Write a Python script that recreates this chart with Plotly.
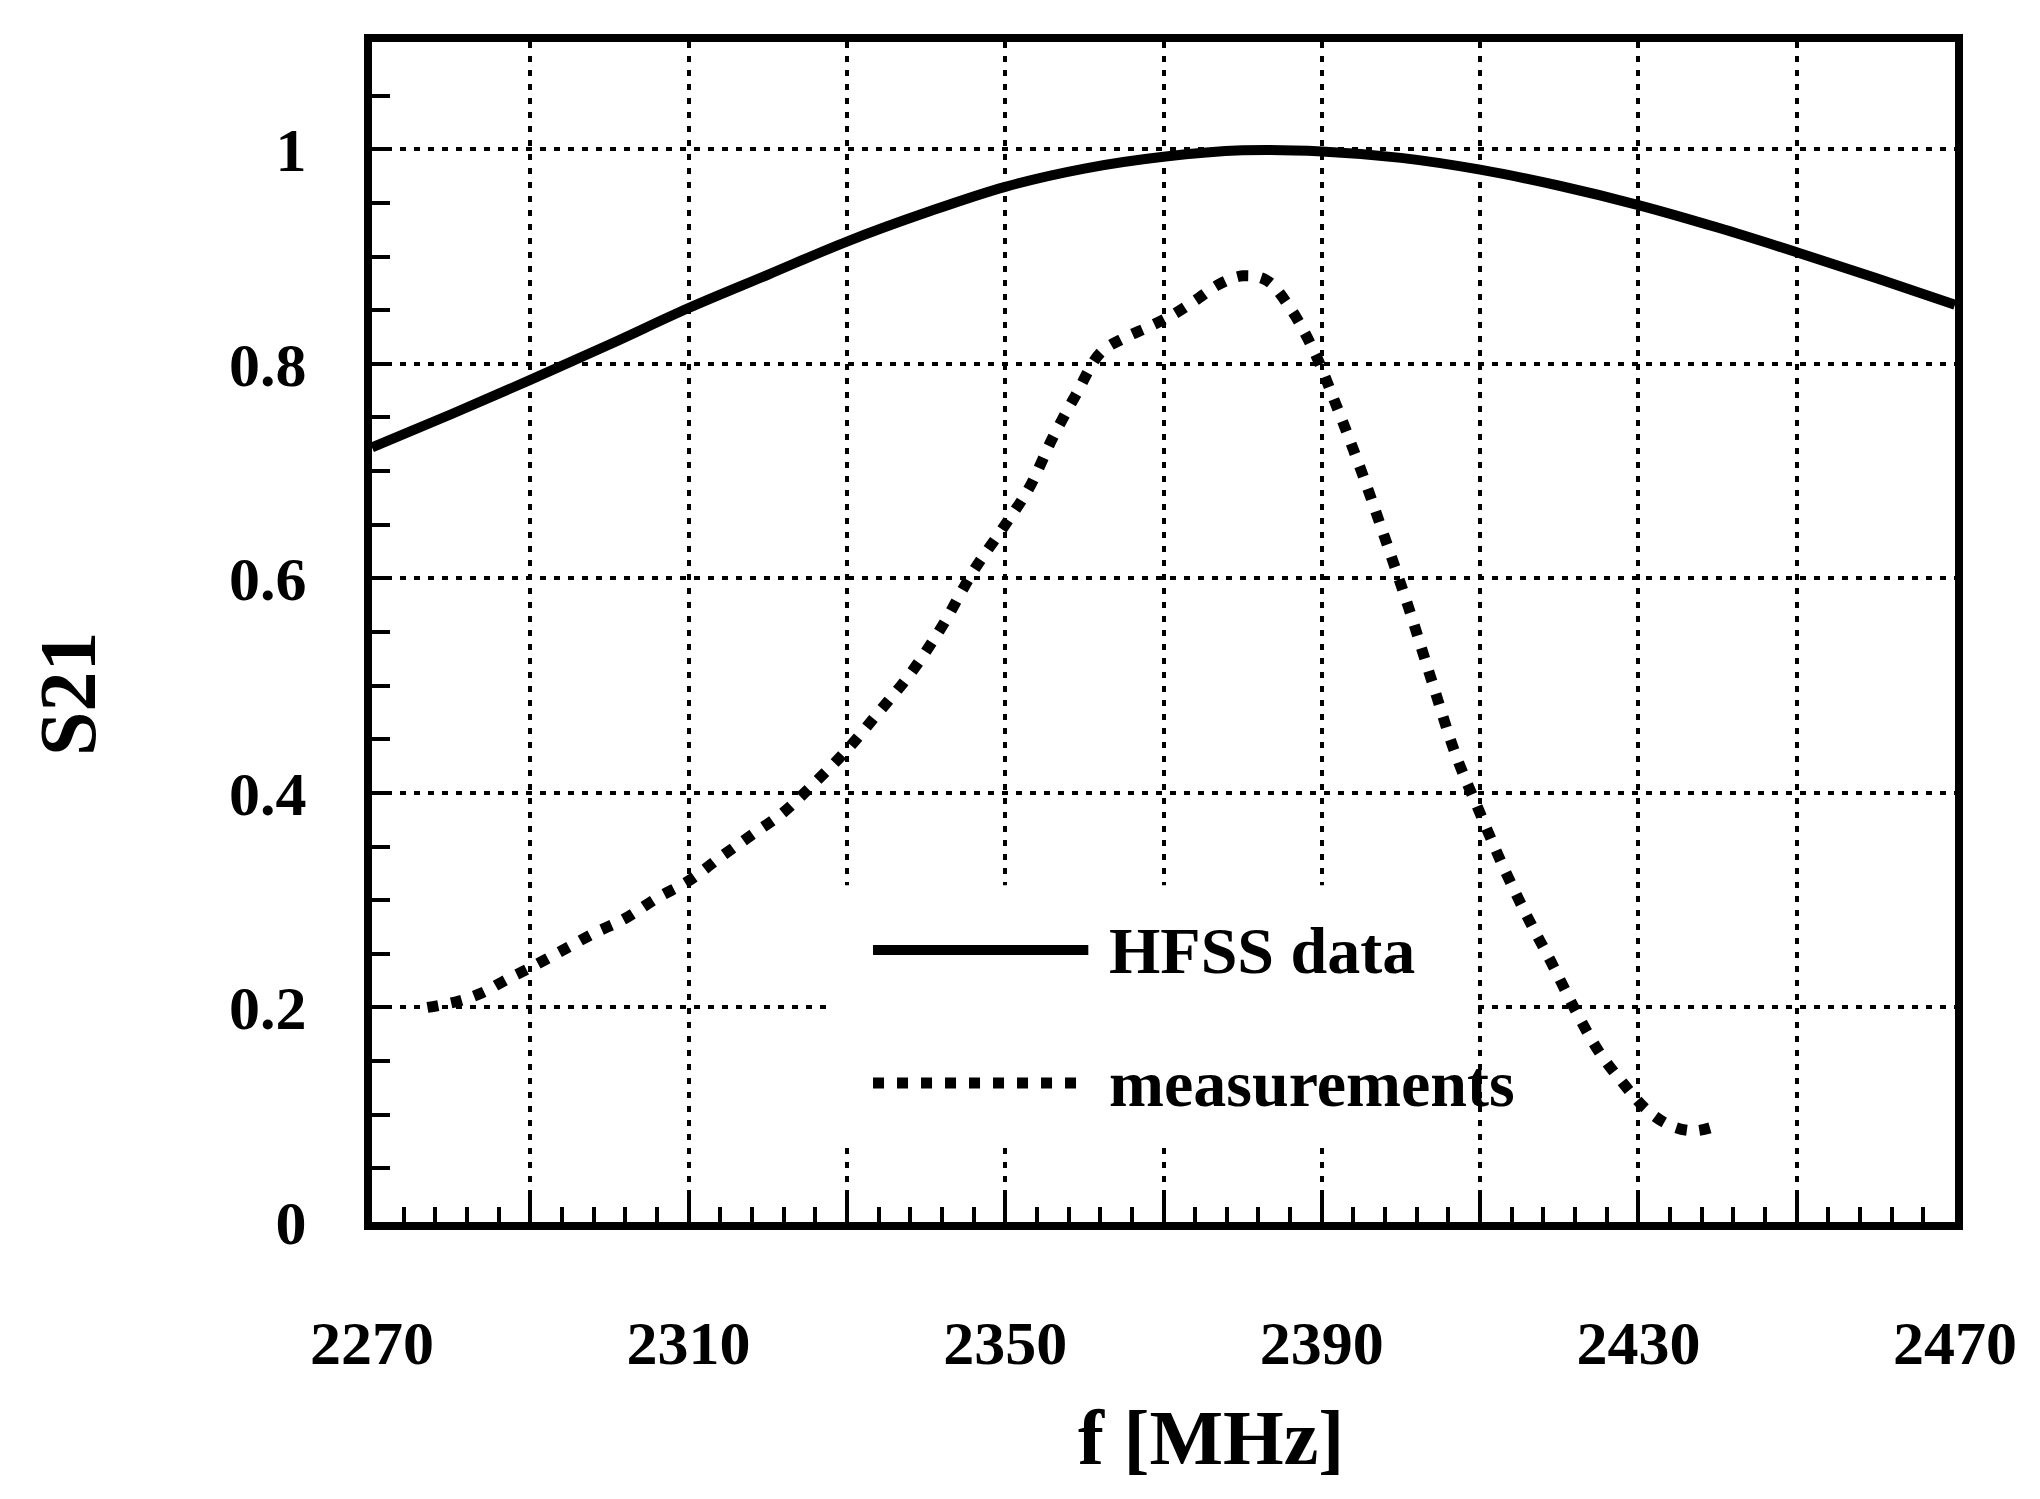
import plotly.graph_objects as go

# ---------------- data ----------------
freq_hfss = [2270, 2280, 2290, 2300, 2310, 2320, 2330, 2340, 2350, 2360, 2370,
             2380, 2390, 2400, 2410, 2420, 2430, 2440, 2450, 2460, 2470]
s21_hfss = [0.722, 0.753, 0.785, 0.818, 0.852, 0.883, 0.914, 0.941, 0.965, 0.982, 0.993,
            0.999, 0.998, 0.992, 0.981, 0.966, 0.948, 0.927, 0.904, 0.880, 0.855]

freq_meas = [2277, 2281, 2284, 2287, 2290, 2294, 2298, 2302, 2306, 2310, 2314, 2318,
             2322, 2326, 2330, 2334, 2338, 2342, 2346, 2350, 2353, 2356, 2359, 2362,
             2365, 2368, 2371, 2374, 2377, 2380, 2383, 2386, 2389, 2392, 2395, 2398,
             2401, 2404, 2407, 2410, 2413, 2416, 2419, 2422, 2425, 2428, 2431, 2434,
             2437, 2440]
s21_meas = [0.200, 0.206, 0.214, 0.226, 0.237, 0.253, 0.269, 0.283, 0.302, 0.318, 0.340, 0.361,
            0.382, 0.410, 0.440, 0.475, 0.511, 0.555, 0.607, 0.650, 0.684, 0.731, 0.772, 0.810,
            0.824, 0.834, 0.845, 0.859, 0.874, 0.882, 0.878, 0.852, 0.812, 0.758, 0.700, 0.637,
            0.572, 0.502, 0.434, 0.381, 0.330, 0.284, 0.242, 0.198, 0.159, 0.130, 0.105, 0.090,
            0.085, 0.090]

x_tick_vals = [2270, 2290, 2310, 2330, 2350, 2370, 2390, 2410, 2430, 2450, 2470]
x_tick_text = ["2270", "", "2310", "", "2350", "", "2390", "", "2430", "", "2470"]
y_tick_vals = [0, 0.2, 0.4, 0.6, 0.8, 1.0]
y_tick_text = ["0", "0.2", "0.4", "0.6", "0.8", "1"]

series_names = ["HFSS data", "measurements"]
x_title = "f [MHz]"
y_title = "S21"

# ---------------- style ----------------
FONT = "Liberation Serif"
MEAS_DASH = "11px,13px"
GRID_DASH = "6px,8px"

fig = go.Figure()
fig.add_trace(go.Scatter(x=freq_hfss, y=s21_hfss, mode="lines", name=series_names[0],
                         line=dict(color="black", width=10, shape="spline"),
                         showlegend=False))
fig.add_trace(go.Scatter(x=freq_meas, y=s21_meas, mode="lines", name=series_names[1],
                         line=dict(color="black", width=11, dash=MEAS_DASH, shape="spline"),
                         showlegend=False))

# custom legend (white box hides the grid, long line samples as in the original)
leg_box = dict(x0=2327.6, x1=2409.4, y0=0.069, y1=0.314)
leg_line_x = (2333.3, 2360.5)
leg_text_x = 2362.9
leg_rows_y = [0.2535, 0.1295]

fig.add_shape(type="rect", xref="x", yref="y", layer="above",
              fillcolor="white", line=dict(width=0), **leg_box)
fig.add_shape(type="line", xref="x", yref="y", layer="above",
              x0=leg_line_x[0], x1=leg_line_x[1], y0=leg_rows_y[0], y1=leg_rows_y[0],
              line=dict(color="black", width=10))
fig.add_shape(type="line", xref="x", yref="y", layer="above",
              x0=leg_line_x[0], x1=leg_line_x[1], y0=leg_rows_y[1], y1=leg_rows_y[1],
              line=dict(color="black", width=11, dash=MEAS_DASH))
for name, yy in zip(series_names, leg_rows_y):
    fig.add_annotation(x=leg_text_x, y=yy, xref="x", yref="y", text=name,
                       showarrow=False, xanchor="left", yanchor="middle",
                       font=dict(family=FONT, size=66, color="black", weight="bold"))

# axis titles placed as in the original (slightly off-centre)
fig.add_annotation(x=0.530, y=-0.183, xref="paper", yref="paper", text=x_title,
                   showarrow=False, xanchor="center", yanchor="middle",
                   font=dict(family=FONT, size=78, color="black", weight="bold"))
fig.add_annotation(x=-0.192, y=0.4475, xref="paper", yref="paper", text=y_title,
                   showarrow=False, xanchor="center", yanchor="middle", textangle=-90,
                   font=dict(family=FONT, size=80, color="black", weight="bold"))

axis_common = dict(
    showline=True, linecolor="black", linewidth=8, mirror=True,
    showgrid=True, gridcolor="black", gridwidth=4, griddash=GRID_DASH,
    zeroline=False, ticks="inside", tickcolor="black", tickwidth=4,
    tickfont=dict(family=FONT, size=62, color="black", weight="bold"),
)

fig.update_xaxes(**axis_common, range=[2270, 2470], tickmode="array",
                 tickvals=x_tick_vals, ticktext=x_tick_text, ticklen=26,
                 ticklabelstandoff=60,
                 minor=dict(dtick=4, tick0=2270, ticks="inside", ticklen=15,
                            tickwidth=4, tickcolor="black", showgrid=False))
fig.update_yaxes(**axis_common, range=[0, 1.1], tickmode="array",
                 tickvals=y_tick_vals, ticktext=y_tick_text, ticklen=20,
                 ticklabelstandoff=45,
                 minor=dict(dtick=0.05, tick0=0, ticks="inside", ticklen=18,
                            tickwidth=4, tickcolor="black", showgrid=False))

fig.update_layout(width=2040, height=1499,
                  margin=dict(l=372, r=85, t=42, b=277, autoexpand=False),
                  plot_bgcolor="white", paper_bgcolor="white", showlegend=False)

fig.write_html("out.html")
